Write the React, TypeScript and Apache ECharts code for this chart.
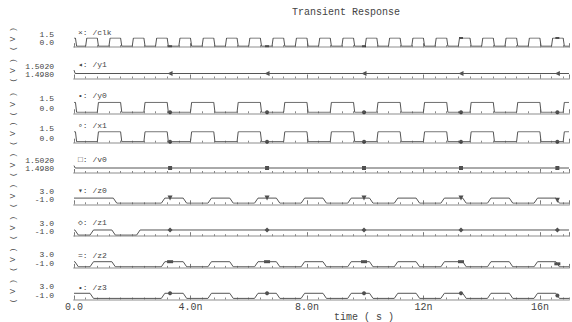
import React, { useEffect, useRef } from 'react';
import * as echarts from 'echarts';

// ---------- data (times in ns, values in V) ----------
const T_END = 17;
const stripNames = ['/clk', '/y1', '/y0', '/x1', '/v0', '/z0', '/z1', '/z2', '/z3'];
const stripGlyphs = ['×', '◂', '•', '∘', '□', '▾', '◇', '=', '•'];
const yMins = [0, 1.498, 0, 0, 1.498, -1, -1, -1, -1];
const yMaxs = [1.5, 1.502, 1.5, 1.5, 1.502, 3, 3, 3, 3];
const yTickLabels = [
  ['0.0', '1.5'],
  ['1.4980', '1.5020'],
  ['0.0', '1.5'],
  ['0.0', '1.5'],
  ['1.4980', '1.5020'],
  ['-1.0', '3.0'],
  ['-1.0', '3.0'],
  ['-1.0', '3.0'],
  ['-1.0', '3.0'],
];
const xTickLabels = ['0.0', '4.0n', '8.0n', '12n', '16n'];
const markerTimes = [3.3, 6.63, 9.96, 13.29, 16.6];

const logicLow = 0;
const logicHigh = 1.5;
const zLow = -0.95;
const zHigh = 1.45;

const clkRise = [0.4, 1.2, 2.0, 2.8, 3.6, 4.4, 5.2, 6.0, 6.8, 7.6, 8.4, 9.2, 10.0, 10.8, 11.6, 12.4, 13.2, 14.0, 14.8, 15.6, 16.4];
const clkFall = [0.05, 0.8, 1.6, 2.4, 3.2, 4.0, 4.8, 5.6, 6.4, 7.2, 8.0, 8.8, 9.6, 10.4, 11.2, 12.0, 12.8, 13.6, 14.4, 15.2, 16.0, 16.8];
const y0Rise = [0.8, 2.4, 4.0, 5.6, 7.2, 8.8, 10.4, 12.0, 13.6, 15.2, 16.8];
const y0Fall = [0.05, 1.6, 3.2, 4.8, 6.4, 8.0, 9.6, 11.2, 12.8, 14.4, 16.0];
const x1Rise = [0.8, 2.4, 4.0, 5.6, 7.2, 8.8, 10.4, 12.0, 13.6, 15.2, 16.8];
const x1Fall = [0.05, 1.6, 3.2, 4.8, 6.4, 8.0, 9.6, 11.2, 12.8, 14.4, 16.0];
const y1Points: number[][] = [[0, 1.5017], [0.04, 1.5], [17, 1.5]];
const v0Points: number[][] = [[0, 1.5012], [0.04, 1.5], [17, 1.5]];
const z0Rise = [3.0, 4.6, 6.2, 7.8, 9.4, 11.0, 12.6, 14.2, 15.8];
const z0Fall = [1.35, 3.75, 5.35, 6.95, 8.55, 10.15, 11.75, 13.35, 14.95, 16.55];
const z1Rise = [0.55, 2.15];
const z1Fall = [0.03, 1.3];
const z2Rise = [0.55, 3.0, 4.6, 6.2, 7.8, 9.4, 11.0, 12.6, 14.2, 15.8];
const z2Fall = [0.03, 1.3, 3.75, 5.35, 6.95, 8.55, 10.15, 11.75, 13.35, 14.95, 16.55];
const z3Rise = [3.0, 4.6, 6.2, 7.8, 9.4, 11.0, 12.6, 14.2, 15.8];
const z3Fall = [0.55, 3.75, 5.35, 6.95, 8.55, 10.15, 11.75, 13.35, 14.95, 16.55];

// ---------- layout ----------
const gridLeft = 74;
const gridRight = 3;
const gridTops = [38, 69.5, 102.3, 131.7, 164, 194.8, 226.7, 258.4, 290];
const gridHeights = [8.2, 8, 10, 10, 8, 8.5, 8.5, 8.5, 8.5];
const stripTitleY = [32.5, 64, 95.5, 125.5, 159.5, 190.5, 222.5, 255.5, 287.5];
const markerSymbols = ['rect', 'triangle', 'circle', 'circle', 'rect', 'triangle', 'diamond', 'rect', 'circle'];
const markerSizes: any[] = [[4, 2], 5, 4, 4, 4, 5, 5, [6, 3], 4];
const markerRotates = [0, 90, 0, 0, 0, 180, 0, 0, 0];

const FONT = '"Liberation Mono", "DejaVu Sans Mono", monospace';
const TEXT = '#444';

function buildTrace(init: number, rises: number[], falls: number[], low: number, high: number, ramp: number) {
  const ev: number[][] = [...rises.map((t) => [t, high]), ...falls.map((t) => [t, low])].sort((a, b) => a[0] - b[0]);
  let level = init;
  const pts: number[][] = [[0, level]];
  for (const [t, v] of ev) {
    pts.push([t, level]);
    pts.push([t + ramp, v]);
    level = v;
  }
  pts.push([T_END, level]);
  return pts;
}

function valueAt(pts: number[][], t: number) {
  for (let k = 0; k < pts.length - 1; k++) {
    const a = pts[k];
    const b = pts[k + 1];
    if (t >= a[0] && t <= b[0]) {
      if (b[0] === a[0]) return b[1];
      return a[1] + ((b[1] - a[1]) * (t - a[0])) / (b[0] - a[0]);
    }
  }
  return pts[pts.length - 1][1];
}

const traces: number[][][] = [
  buildTrace(logicHigh, clkRise, clkFall, logicLow, logicHigh, 0.04),
  y1Points,
  buildTrace(logicHigh, y0Rise, y0Fall, logicLow, logicHigh, 0.04),
  buildTrace(logicHigh, x1Rise, x1Fall, logicLow, logicHigh, 0.04),
  v0Points,
  buildTrace(zHigh, z0Rise, z0Fall, zLow, zHigh, 0.12),
  buildTrace(zHigh, z1Rise, z1Fall, zLow, zHigh, 0.12),
  buildTrace(zHigh, z2Rise, z2Fall, zLow, zHigh, 0.12),
  buildTrace(zHigh, z3Rise, z3Fall, zLow, zHigh, 0.12),
];

function yAxisFor(i: number, which: 0 | 1) {
  const mn = yMins[i];
  const mx = yMaxs[i];
  const labs = yTickLabels[i];
  return {
    type: 'value',
    gridIndex: i,
    position: 'left',
    offset: 0,
    min: mn,
    max: mx,
    interval: mx - mn,
    axisLine: { show: false, onZero: false },
    axisTick: { show: false },
    splitLine: { show: false },
    axisLabel: {
      margin: 20,
      showMinLabel: which === 0,
      showMaxLabel: which === 1,
      fontFamily: FONT,
      fontSize: 8,
      lineHeight: 7,
      verticalAlign: 'bottom',
      color: TEXT,
      formatter: (v: number) => {
        const tol = (mx - mn) * 1e-4;
        if (which === 0 && Math.abs(v - mn) < tol) return labs[0];
        if (which === 1 && Math.abs(v - mx) < tol) return labs[1];
        return '';
      },
    },
  };
}

export default function App() {
  const ref = useRef<HTMLDivElement>(null);
  useEffect(() => {
    if (!ref.current) return;
    const chart = echarts.init(ref.current, null, { renderer: 'svg' });
    const n = stripNames.length;
    const grids: any[] = [];
    const xAxes: any[] = [];
    const yAxes: any[] = [];
    const series: any[] = [];
    const graphics: any[] = [];
    for (let i = 0; i < n; i++) {
      grids.push({ left: gridLeft, right: gridRight, top: gridTops[i], height: gridHeights[i] });
      const isLast = i === n - 1;
      xAxes.push({
        type: 'value',
        gridIndex: i,
        min: 0,
        max: T_END,
        interval: 4,
        position: 'bottom',
        offset: 1,
        axisLine: { show: true, onZero: false, lineStyle: { color: '#c6c6c6', width: 2 } },
        axisTick: { show: true, inside: true, length: 4, lineStyle: { color: '#777', width: 1 } },
        splitLine: { show: false },
        axisLabel: isLast
          ? {
              show: true,
              showMaxLabel: false,
              margin: 3,
              fontFamily: FONT,
              fontSize: 10,
              color: TEXT,
              formatter: (v: number) => {
                const k = Math.round(v / 4);
                return Math.abs(v / 4 - k) < 1e-6 ? xTickLabels[k] ?? '' : '';
              },
            }
          : { show: false },
      });
      xAxes.push({
        type: 'value',
        gridIndex: i,
        min: 0,
        max: T_END,
        interval: 0.4,
        position: 'bottom',
        offset: 1,
        axisLine: { show: false, onZero: false },
        axisTick: { show: true, inside: true, length: 2, lineStyle: { color: '#888', width: 1 } },
        splitLine: { show: false },
        axisLabel: { show: false },
      });
      yAxes.push(yAxisFor(i, 0));
      yAxes.push(yAxisFor(i, 1));
      series.push({
        type: 'line',
        xAxisIndex: 2 * i,
        yAxisIndex: 2 * i,
        data: traces[i],
        showSymbol: false,
        symbol: 'none',
        silent: true,
        lineStyle: { color: '#555', width: 1 },
      });
      series.push({
        type: 'scatter',
        xAxisIndex: 2 * i,
        yAxisIndex: 2 * i,
        data: markerTimes.map((t) => [t, valueAt(traces[i], t)]),
        symbol: markerSymbols[i],
        symbolSize: markerSizes[i],
        symbolRotate: markerRotates[i],
        silent: true,
        itemStyle: { color: '#222' },
      });
      graphics.push({
        type: 'text',
        x: 78,
        y: stripTitleY[i],
        silent: true,
        style: {
          text: `${stripGlyphs[i]}: ${stripNames[i]}`,
          font: `8px ${FONT}`,
          fill: TEXT,
          verticalAlign: 'middle',
        },
      });
      graphics.push({
        type: 'text',
        x: 12,
        y: gridTops[i] + gridHeights[i] / 2 - 3,
        rotation: Math.PI / 2,
        silent: true,
        style: {
          text: '( V )',
          font: `8px ${FONT}`,
          fill: TEXT,
          align: 'center',
          verticalAlign: 'middle',
        },
      });
    }
    graphics.push({
      type: 'text',
      x: 364,
      y: 317,
      silent: true,
      style: {
        text: 'time ( s )',
        font: `10px ${FONT}`,
        fill: TEXT,
        align: 'center',
        verticalAlign: 'middle',
      },
    });
    chart.setOption({
      animation: false,
      backgroundColor: '#ffffff',
      title: {
        text: 'Transient Response',
        left: 292,
        top: 7,
        padding: 0,
        textStyle: { fontFamily: FONT, fontSize: 10, fontWeight: 'normal', color: TEXT },
      },
      grid: grids,
      xAxis: xAxes,
      yAxis: yAxes,
      series,
      graphic: graphics,
    });
    return () => chart.dispose();
  }, []);
  return <div ref={ref} style={{ position: 'absolute', left: 0, top: 0, width: 572, height: 322 }} />;
}
